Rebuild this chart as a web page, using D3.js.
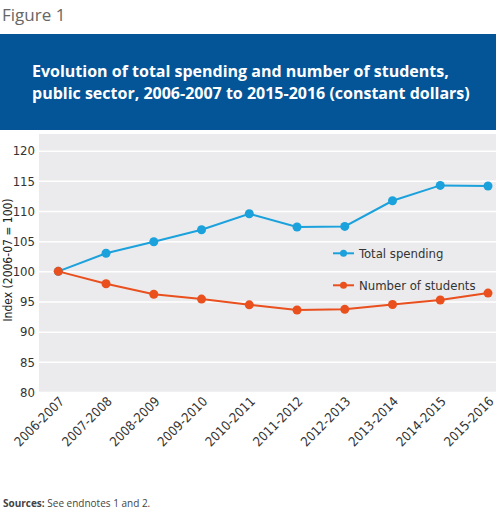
<!DOCTYPE html>
<html><head><meta charset="utf-8">
<script src="https://cdn.jsdelivr.net/npm/d3@7"></script>
<style>body{margin:0;background:#fff}svg{display:block}</style>
</head><body>
<svg id="c" width="500" height="511"></svg>
<script>
const years = ["2006-2007","2007-2008","2008-2009","2009-2010","2010-2011","2011-2012","2012-2013","2013-2014","2014-2015","2015-2016"];
const totalSpending = [100, 103.0, 104.9, 106.9, 109.55, 107.35, 107.45, 111.7, 114.25, 114.15];
const numberOfStudents = [100, 97.95, 96.2, 95.4, 94.45, 93.6, 93.7, 94.5, 95.25, 96.4];
const yTicks = [80,85,90,95,100,105,110,115,120];
const seriesNames = ["Total spending","Number of students"];
const colors = ["#1ba1db","#e9501e"];

const svg = d3.select("#c");
const font = "'DejaVu Sans Condensed','Roboto Condensed','Liberation Sans Narrow',Roboto,sans-serif";

svg.append("text").attr("x",2).attr("y",21).attr("font-family","'Open Sans',sans-serif")
  .attr("font-size",17).attr("fill","#666").text("Figure 1");

svg.append("rect").attr("x",0).attr("y",34).attr("width",496).attr("height",96).attr("fill","#035598");
const tt = svg.append("text").attr("font-family","'Open Sans',sans-serif").attr("font-weight","bold")
  .attr("font-size",16).attr("fill","#fff");
tt.append("tspan").attr("x",32).attr("y",77).text("Evolution of total spending and number of students,");
tt.append("tspan").attr("x",32).attr("y",99).text("public sector, 2006-2007 to 2015-2016 (constant dollars)");

const L = 39, R = 496, T = 134, B = 392;
svg.append("rect").attr("x",L).attr("y",T).attr("width",R-L).attr("height",B-T).attr("fill","#ebebed");

const x = d3.scalePoint().domain(years).range([58.3, 488]);
const y = d3.scaleLinear().domain([80,120]).range([B, 150.7]);

const yAxis = svg.append("g").attr("transform",`translate(${L},0)`)
  .call(d3.axisLeft(y).tickValues(yTicks).tickSize(-(R-L)).tickPadding(4));
yAxis.select(".domain").remove();
yAxis.selectAll(".tick line").attr("stroke","#fff").attr("stroke-width",1.5);
yAxis.selectAll(".tick text").attr("font-family",font).attr("font-size",13).attr("fill","#333");

const xAxis = svg.append("g").attr("transform",`translate(0,${B})`)
  .call(d3.axisBottom(x).tickSize(0));
xAxis.select(".domain").remove();
xAxis.selectAll(".tick text").attr("font-family",font).attr("font-size",13).attr("fill","#333")
  .attr("text-anchor","end").attr("dy",0).attr("transform","translate(4,8) rotate(-45)");

svg.append("text").attr("transform","translate(12,260) rotate(-90)").attr("text-anchor","middle")
  .attr("font-family",font).attr("font-size",12).attr("fill","#222")
  .text("Index (2006-07 = 100)");

const series = [totalSpending, numberOfStudents];
const line = d3.line().x((d,i)=>x(years[i])).y(d=>y(d));
series.forEach((s,k)=>{
  svg.append("path").datum(s).attr("d",line).attr("fill","none").attr("stroke",colors[k]).attr("stroke-width",2);
  svg.selectAll(null).data(s).enter().append("circle")
    .attr("cx",(d,i)=>x(years[i])).attr("cy",d=>y(d)).attr("r",4.5).attr("fill",colors[k]);
});

// legend
const legY = [253.3, 285.3];
seriesNames.forEach((n,k)=>{
  svg.append("line").attr("x1",333).attr("x2",354).attr("y1",legY[k]).attr("y2",legY[k])
    .attr("stroke",colors[k]).attr("stroke-width",2);
  svg.append("circle").attr("cx",343.5).attr("cy",legY[k]).attr("r",3.5).attr("fill",colors[k]);
  svg.append("text").attr("x",359).attr("y",legY[k]+4.5).attr("font-family",font).attr("font-size",13)
    .attr("fill","#333").text(n);
});

const src = svg.append("text").attr("x",3).attr("y",507).attr("font-family","'Open Sans',sans-serif")
  .attr("font-size",10).attr("fill","#444");
src.append("tspan").attr("font-weight","bold").text("Sources:");
src.append("tspan").text(" See endnotes 1 and 2.");
</script>
</body></html>
